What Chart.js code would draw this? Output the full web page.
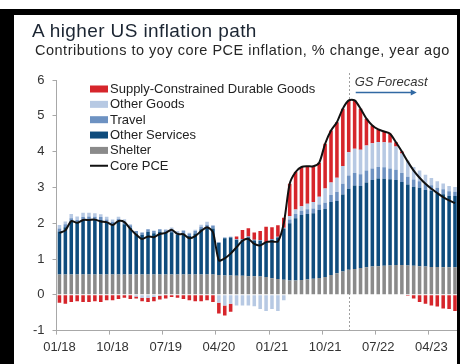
<!DOCTYPE html>
<html>
<head>
<meta charset="utf-8">
<title>A higher US inflation path</title>
<script src="https://cdn.jsdelivr.net/npm/chart.js@4.4.1/dist/chart.umd.min.js"></script>
<style>
  html, body { margin: 0; padding: 0; background: #fff; }
  body {
    width: 460px; height: 364px; position: relative; overflow: hidden;
    font-family: 'Liberation Sans', Arial, Helvetica, sans-serif;
  }
  .frame {
    position: absolute; left: 0; top: 9px; width: 460px; height: 355px;
    box-sizing: border-box; z-index: 2; pointer-events: none;
    border-top: 6px solid #000; border-left: 14px solid #000; border-right: 3px solid #000;
  }
  .title {
    position: absolute; left: 32px; top: 21px; z-index: 3;
    font-size: 19px; line-height: 1; letter-spacing: 0.4px; color: #1b2532; white-space: nowrap;
  }
  .subtitle {
    position: absolute; left: 35px; top: 43px; z-index: 3;
    font-size: 14.5px; line-height: 1; letter-spacing: 0.5px; color: #262626; white-space: nowrap;
  }
  #chart { position: absolute; left: 0; top: 0; z-index: 1; }
</style>
</head>
<body>
<div class="frame"></div>
<div class="title">A higher US inflation path</div>
<div class="subtitle">Contributions to yoy core PCE inflation, % change, year ago</div>
<canvas id="chart" width="460" height="364"></canvas>

<script>
// monthly categories, Jan 2018 - Aug 2023
const months = [
  '01/18','02/18','03/18','04/18','05/18','06/18','07/18','08/18','09/18','10/18','11/18','12/18',
  '01/19','02/19','03/19','04/19','05/19','06/19','07/19','08/19','09/19','10/19','11/19','12/19',
  '01/20','02/20','03/20','04/20','05/20','06/20','07/20','08/20','09/20','10/20','11/20','12/20',
  '01/21','02/21','03/21','04/21','05/21','06/21','07/21','08/21','09/21','10/21','11/21','12/21',
  '01/22','02/22','03/22','04/22','05/22','06/22','07/22','08/22','09/22','10/22','11/22','12/22',
  '01/23','02/23','03/23','04/23','05/23','06/23','07/23','08/23'
];

// contributions, percentage points
const shelter = [
  0.57,0.57,0.57,0.57,0.57,0.57,0.57,0.57,0.57,0.57,0.57,0.57,
  0.57,0.57,0.57,0.57,0.57,0.57,0.57,0.57,0.57,0.57,0.57,0.57,
  0.57,0.57,0.57,0.55,0.54,0.54,0.53,0.53,0.52,0.52,0.51,0.50,
  0.46,0.44,0.42,0.40,0.40,0.41,0.43,0.45,0.47,0.50,0.55,0.60,
  0.65,0.70,0.72,0.75,0.77,0.79,0.80,0.81,0.82,0.83,0.83,0.82,
  0.81,0.80,0.79,0.78,0.78,0.77,0.77,0.77
];
const otherServices = [
  1.20,1.32,1.49,1.44,1.52,1.54,1.53,1.52,1.45,1.39,1.47,1.40,
  1.30,1.14,1.10,1.19,1.15,1.19,1.16,1.18,1.10,1.14,1.07,1.14,
  1.26,1.32,1.28,0.90,1.04,1.06,1.00,1.01,1.09,1.00,1.00,0.95,
  1.08,1.16,1.42,1.60,1.74,1.82,1.83,1.83,1.90,1.90,2.04,2.02,
  2.15,2.26,2.33,2.29,2.37,2.42,2.45,2.43,2.41,2.38,2.32,2.26,
  2.21,2.19,2.14,2.12,2.06,2.04,1.99,1.99
];
const travel = [
  0.08,0.08,0.08,0.08,0.08,0.08,0.08,0.08,0.08,0.08,0.08,0.08,
  0.07,0.07,0.07,0.07,0.07,0.07,0.07,0.07,0.07,0.07,0.07,0.07,
  0.07,0.07,0.07,0.02,0.02,0.02,0.02,0.02,0.02,0.02,0.02,0.02,
  0.02,0.02,0.03,0.10,0.12,0.12,0.13,0.13,0.15,0.17,0.20,0.25,
  0.30,0.37,0.35,0.33,0.33,0.32,0.32,0.32,0.30,0.28,0.25,0.22,
  0.20,0.18,0.17,0.16,0.15,0.14,0.13,0.12
];
const otherGoods = [
  0.10,0.08,0.12,0.10,0.12,0.10,0.10,0.08,0.08,0.06,0.06,0.06,
  0.03,-0.05,-0.08,-0.08,-0.06,-0.03,0.03,0.06,0.04,0.03,0.02,0.04,
  0.06,0.08,0.03,-0.22,-0.30,-0.25,-0.30,-0.30,-0.30,-0.32,-0.40,-0.45,
  -0.40,-0.45,-0.15,0.10,0.12,0.12,0.15,0.18,0.22,0.40,0.35,0.40,
  0.50,0.65,0.68,0.68,0.70,0.70,0.70,0.70,0.72,0.65,0.55,0.45,
  0.35,0.30,0.25,0.20,0.18,0.16,0.15,0.13
];
const supplyConstrained = [
  -0.22,-0.25,-0.20,-0.18,-0.20,-0.20,-0.18,-0.20,-0.15,-0.15,-0.12,-0.08,
  -0.12,-0.05,-0.10,-0.12,-0.12,-0.10,-0.10,-0.06,-0.08,-0.12,-0.15,-0.18,
  -0.18,-0.15,-0.20,-0.30,-0.28,-0.22,0.08,0.25,0.23,0.20,0.25,0.43,
  0.33,0.32,0.28,0.90,1.05,1.10,1.05,1.00,0.95,1.25,1.45,1.55,
  1.60,1.45,1.35,1.15,0.75,0.50,0.35,0.30,0.25,0.12,0.05,-0.03,
  -0.10,-0.20,-0.25,-0.30,-0.33,-0.38,-0.40,-0.45
];
// core PCE inflation, % yoy
const corePce = [
  1.73,1.80,2.06,2.01,2.09,2.09,2.10,2.05,2.03,1.95,2.06,2.03,
  1.84,1.68,1.56,1.63,1.61,1.70,1.73,1.82,1.70,1.69,1.58,1.64,
  1.78,1.89,1.75,0.96,1.02,1.15,1.33,1.51,1.56,1.42,1.38,1.47,
  1.49,1.49,2.00,3.10,3.43,3.57,3.59,3.59,3.69,4.22,4.59,4.82,
  5.20,5.43,5.43,5.20,4.92,4.73,4.62,4.56,4.50,4.26,4.00,3.72,
  3.47,3.27,3.10,2.96,2.84,2.73,2.64,2.56
];

const yTicks = { min: -1, max: 6, step: 1 };
const labelEvery = 9;
const forecastStart = '02/22';
const forecastLabel = 'GS Forecast';

const FONT = "'Liberation Sans', Arial, Helvetica, sans-serif";
const axisColor = '#a8a8a8';
const colors = {
  supply: '#d6252b',
  goods: '#b7c9e3',
  travel: '#6d92c2',
  services: '#0f4c7d',
  shelter: '#8a8a8a',
  pce: '#111111'
};

function barSet(label, data, color) {
  return {
    type: 'bar',
    label: label,
    data: data,
    backgroundColor: color,
    borderWidth: 0,
    barPercentage: 0.6,
    categoryPercentage: 1,
    stack: 'contrib',
    order: 1
  };
}

// legend drawn inside the plot, top-left
const insideLegend = {
  id: 'insideLegend',
  afterDraw(chart) {
    const { ctx, chartArea } = chart;
    const sets = chart.data.datasets;
    const order = [4, 3, 2, 1, 0, 5];
    const x0 = chartArea.left + 33.5;
    let y = chartArea.top + 9;
    ctx.save();
    ctx.font = '13px ' + FONT;
    ctx.textBaseline = 'middle';
    order.forEach(i => {
      const ds = sets[i];
      if (ds.type === 'line') {
        ctx.strokeStyle = ds.borderColor;
        ctx.lineWidth = 2;
        ctx.beginPath();
        ctx.moveTo(x0, y);
        ctx.lineTo(x0 + 18, y);
        ctx.stroke();
      } else {
        ctx.fillStyle = ds.backgroundColor;
        ctx.fillRect(x0, y - 3.5, 18, 7);
      }
      ctx.fillStyle = '#222';
      ctx.fillText(ds.label, x0 + 20, y + 0.5);
      y += 15.35;
    });
    ctx.restore();
  }
};

// dashed divider where the forecast begins, with its label and arrow
const forecastMarker = {
  id: 'forecastMarker',
  beforeDatasetsDraw(chart) {
    const { ctx, chartArea, scales } = chart;
    const xPos = Math.round(scales.x.getPixelForValue(months.indexOf(forecastStart))) + 0.5;
    ctx.save();
    ctx.strokeStyle = '#a0a0a0';
    ctx.lineWidth = 1;
    ctx.setLineDash([2, 2]);
    ctx.beginPath();
    ctx.moveTo(xPos, chartArea.top - 7);
    ctx.lineTo(xPos, chartArea.bottom);
    ctx.stroke();
    ctx.restore();
  },
  afterDraw(chart) {
    const { ctx, chartArea, scales } = chart;
    const xPos = scales.x.getPixelForValue(months.indexOf(forecastStart));
    ctx.save();
    ctx.font = 'italic 13px ' + FONT;
    ctx.fillStyle = '#333';
    ctx.textBaseline = 'alphabetic';
    ctx.fillText(forecastLabel, xPos + 6, chartArea.top + 6);
    const ay = chartArea.top + 12.5;
    const ax0 = xPos + 7;
    const ax1 = xPos + 68;
    ctx.strokeStyle = '#3169a3';
    ctx.fillStyle = '#3169a3';
    ctx.lineWidth = 1.3;
    ctx.beginPath();
    ctx.moveTo(ax0, ay);
    ctx.lineTo(ax1 - 4, ay);
    ctx.stroke();
    ctx.beginPath();
    ctx.moveTo(ax1, ay);
    ctx.lineTo(ax1 - 6, ay - 3);
    ctx.lineTo(ax1 - 6, ay + 3);
    ctx.closePath();
    ctx.fill();
    ctx.restore();
  }
};

document.addEventListener('DOMContentLoaded', function() {
  const canvas = document.getElementById('chart');

  new Chart(canvas, {
    data: {
      labels: months,
      datasets: [
        barSet('Shelter', shelter, colors.shelter),
        barSet('Other Services', otherServices, colors.services),
        barSet('Travel', travel, colors.travel),
        barSet('Other Goods', otherGoods, colors.goods),
        barSet('Supply-Constrained Durable Goods', supplyConstrained, colors.supply),
        {
          type: 'line',
          label: 'Core PCE',
          data: corePce,
          borderColor: colors.pce,
          borderWidth: 2,
          pointRadius: 0,
          tension: 0.25,
          fill: false,
          stack: 'pce',
          order: 0
        }
      ]
    },
    options: {
      responsive: false,
      devicePixelRatio: 1,
      animation: false,
      layout: { padding: { left: 0, right: 1, top: 80, bottom: 0 } },
      plugins: {
        legend: { display: false },
        tooltip: { enabled: false },
        title: { display: false }
      },
      scales: {
        x: {
          stacked: true,
          offset: true,
          grid: {
            offset: true,
            drawOnChartArea: false,
            tickLength: 4,
            color: ctx => (ctx.index % labelEvery === 0 ? axisColor : 'rgba(0,0,0,0)')
          },
          border: { color: axisColor, width: 1 },
          ticks: {
            autoSkip: false,
            maxRotation: 0,
            padding: 5,
            color: '#333',
            font: { family: FONT, size: 13 },
            callback: (value, index) => (index % labelEvery === 0 ? months[index] : '')
          },
          afterFit: scale => { scale.height = 33.4; }
        },
        y: {
          stacked: true,
          min: yTicks.min,
          max: yTicks.max,
          grid: { drawOnChartArea: false, tickLength: 4, color: axisColor },
          border: { color: axisColor, width: 1 },
          ticks: {
            stepSize: yTicks.step,
            padding: 8,
            color: '#333',
            font: { family: FONT, size: 13 }
          },
          afterFit: scale => { scale.width = 56.5; }
        }
      }
    },
    plugins: [forecastMarker, insideLegend]
  });
});
</script>
</body>
</html>
